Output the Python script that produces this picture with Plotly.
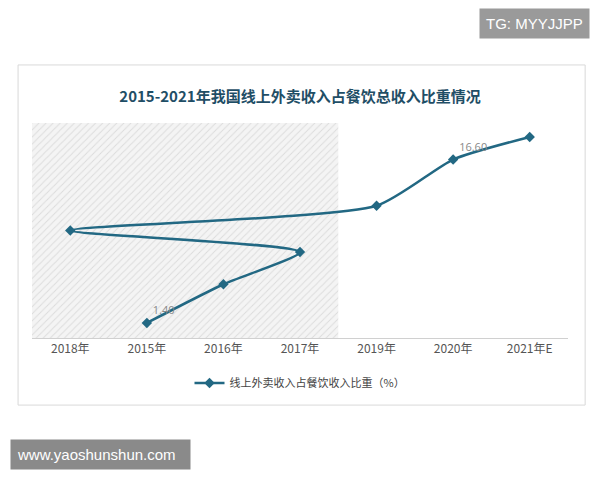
import plotly.graph_objects as go

years = ["2015年", "2016年", "2017年", "2018年", "2019年", "2020年", "2021年E"]
share = [1.40, 5.0, 8.0, 10.0, 12.3, 16.60, 18.7]
label_text = ["1.40", "", "", "", "", "16.60", ""]
series_name = "线上外卖收入占餐饮收入比重（%）"
title = "2015-2021年我国线上外卖收入占餐饮总收入比重情况"

C = "#226883"
fig = go.Figure()
# hatched plot background (one bar spanning all categories)
fig.add_trace(go.Bar(x=[years[3]], y=[20], width=[7], showlegend=False, hoverinfo="skip",
                     marker=dict(color="#f4f4f4", line=dict(width=0),
                     pattern=dict(shape="/", fgcolor="#c4c4c4", size=5, solidity=0.2))))
fig.add_trace(go.Scatter(x=years, y=share, mode="lines+markers+text", name=series_name,
                         line=dict(color=C, width=2.5, shape="spline", smoothing=0.6),
                         marker=dict(symbol="diamond", size=8, color=C),
                         text=label_text, textposition="top right",
                         textfont=dict(color="#888", size=11, family="Open Sans")))
fig.update_layout(
    width=584, height=464, paper_bgcolor="white", plot_bgcolor="rgba(0,0,0,0)",
    margin=dict(l=24, r=24, t=115, b=134),
    title=dict(text="<b>" + title + "</b>", x=0.5, xanchor="center", y=0.808, yanchor="middle",
               font=dict(size=15, color="#1f4e66", family="Noto Sans CJK SC")),
    xaxis=dict(range=[-0.5, 6.5], showgrid=False, zeroline=False, showline=True, linecolor="#d0d0d0",
               tickfont=dict(size=12, color="#555", family="Noto Sans CJK SC"), ticks=""),
    yaxis=dict(range=[0, 20], visible=False),
    legend=dict(orientation="h", x=0.5, xanchor="center", y=-0.209, yanchor="middle",
                font=dict(size=11, color="#444", family="Noto Sans CJK SC")),
    showlegend=True,
    shapes=[dict(type="rect", xref="paper", yref="paper", x0=-0.026, x1=1.032, y0=-0.312, y1=1.27,
                 line=dict(color="#d9d9d9", width=1))],
    annotations=[
        dict(text="TG: MYYJJPP", xref="paper", yref="paper", x=1.041, y=1.465, xanchor="right",
             yanchor="middle", showarrow=False, bgcolor="#9a9a9a",
             font=dict(color="white", size=15, family="Liberation Sans"), borderpad=6),
        dict(text="www.yaoshunshun.com  ", xref="paper", yref="paper", x=-0.041, y=-0.544, xanchor="left",
             yanchor="middle", showarrow=False, bgcolor="#8a8a8a",
             font=dict(color="white", size=15, family="Liberation Sans"), borderpad=6),
    ],
)
fig.write_html("out.html")
